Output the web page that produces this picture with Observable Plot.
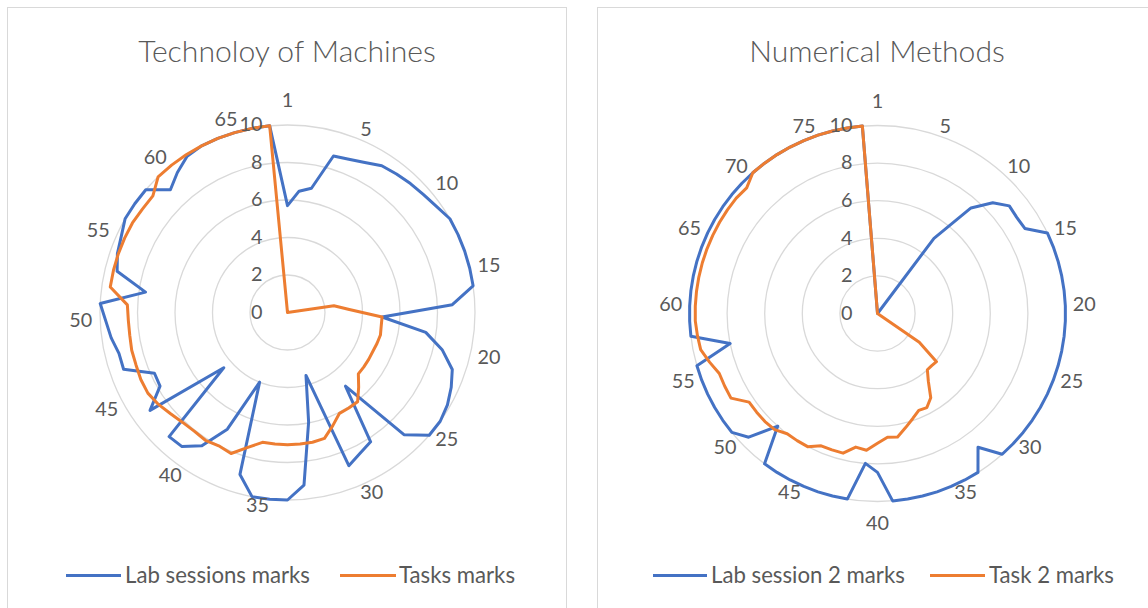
<!DOCTYPE html>
<html><head><meta charset="utf-8">
<script src="https://cdn.jsdelivr.net/npm/d3@7"></script>
<script src="https://cdn.jsdelivr.net/npm/@observablehq/plot@0.6"></script>
<style>
html,body{margin:0;padding:0;background:#fff;overflow:hidden}
#root{position:relative;width:1148px;height:608px;overflow:hidden;font-family:Lato,"Noto Sans",sans-serif;color:#595959}
.panel{position:absolute;border:1px solid #d9d9d9;background:#fff;box-sizing:border-box}
.abs{position:absolute;white-space:nowrap}
.sw{position:absolute;height:3px}
</style></head><body><div id="root"></div>
<script>
// ---------- data ----------
const techTitle = "Technoloy of Machines";
const numTitle = "Numerical Methods";
const ringTicks = [0, 2, 4, 6, 8, 10];

const techCategories = d3.range(1, 67);   // 66 categories
const techLabelCats = [1, 5, 10, 15, 20, 25, 30, 35, 40, 45, 50, 55, 60, 65];
const techLab = [5.7,6.5,6.75,8.7,8.8,9.0,9.3,9.4,9.5,9.6,
  9.75,10,10,10,10,10,8.8,5.05,7.45,8.5,
  9.3,9.6,9.85,10,10,9.0,5.0,8.2,8.45,8.8,
  3.5,5.95,9.25,10,10,10,9.0,4.0,7.0,8.45,
  9.1,9.15,4.5,9.0,7.85,7.8,9.25,9.25,9.5,9.7,
  10,7.65,9.35,9.6,9.75,10,10,10,9.05,9.5,
  9.9,10,10,10,10,10];
const techTask = [0,0,0,0,0,0,0,0,0,0,
  0,0,0,0,0,2.5,3.3,5.05,5.05,5.1,
  5.05,5.0,5.0,5.0,5.0,5.5,6.05,6.05,6.05,6.5,
  7.0,7.05,7.05,7.05,7.05,7.05,7.5,8.1,8.0,8.1,
  8.05,8.1,8.25,8.45,8.6,8.6,8.55,8.55,8.5,8.5,
  8.55,9.55,9.55,9.55,9.55,9.55,9.5,9.5,10,10,
  10,10,10,10,10,10];

const numCategories = d3.range(1, 79);    // 78 categories
const numLabelCats = [1, 5, 10, 15, 20, 25, 30, 35, 40, 45, 50, 55, 60, 65, 70, 75];
const numLab = [0,0,0,0,0,0,0,0,5.0,7.5,
  8.5,9.05,9.0,9.05,10,10,10,10,10,10,
  10,10,10,10,10,10,10,10,10,10,
  10,8.9,10,10,10,10,10,10,10,8.45,
  8.0,10,10,10,10,10,10,10,8.0,9.5,
  10,10,10,10,10,10,8.0,10,10,10,
  10,10,10,10,10,10,10,10,10,10,
  10,10,10,10,10,10,10,10];
const numTask = [0,0,0,0,0,0,0,0,0,0,
  0,0,0,0,0,0,0,0,0,0,
  0,0,0,0,0,0,0,2.7,4.05,4.0,
  4.0,4.5,5.3,5.65,5.6,5.9,6.25,6.65,6.6,6.9,
  7.3,7.2,7.65,7.65,7.65,8.0,8.0,8.0,8.25,8.3,
  8.3,8.3,9.0,9.0,9.0,9.3,9.6,9.65,9.7,9.7,
  9.7,9.7,9.7,9.7,9.7,9.7,9.7,9.7,9.65,10,
  10,10,10,10,10,10,10,10];

const BLUE = "#4472C4", ORANGE = "#ED7D31", GRID = "#D9D9D9", TEXT = "#595959";
const FONT = 'Lato, "Noto Sans", sans-serif';

// ---------- font fitting ----------
const ctx = document.createElement("canvas").getContext("2d");
function textWidth(text, size, weight = 400) {
  ctx.font = `${weight} ${size}px ${FONT}`;
  return ctx.measureText(text).width;
}
function fitSize(text, target, weight = 400) {
  return 100 * target / textWidth(text, 100, weight);
}
const tickSize = fitSize("10", 23);
const titleSize = fitSize(techTitle, 299, 300);
const legendSize = fitSize("Lab sessions marks", 185);

// ---------- radar ----------
function radar({categories, labelCats, series, unit, width, height, cx, cy}) {
  const N = categories.length;
  const ang = i => i * 2 * Math.PI / N;
  const LR = 195.5 / unit;
  const TICK_DX = -25;
  // boxes of the radial tick labels (in px relative to centre) to keep category labels clear of them
  const tickBoxes = ringTicks.map(t => {
    const w = textWidth(String(t), tickSize);
    return {right: TICK_DX, left: TICK_DX - w, y: -t * unit};
  });
  const labels = labelCats.map(c => {
    const i = categories.indexOf(c);
    const deg = i * 360 / N;
    let x = LR * Math.sin(ang(i)), y = LR * Math.cos(ang(i));
    if (deg > 180 + 1e-9) {
      const right = x * unit, py = -y * unit;
      for (const b of tickBoxes) {
        if (Math.abs(py - b.y) < tickSize * 0.8 && right > b.left - 2) {
          x -= (right - (b.left - 2)) / unit;
        }
      }
    }
    return {c, deg, x, y};
  });
  const txt = {x: "x", y: "y", text: d => String(d.c), fill: TEXT, fontSize: tickSize};
  return Plot.plot({
    width, height,
    marginTop: 0, marginRight: 0, marginBottom: 0, marginLeft: 0,
    x: {domain: [-cx / unit, (width - cx) / unit], range: [0, width], axis: null},
    y: {domain: [-(height - cy) / unit, cy / unit], range: [height, 0], axis: null},
    r: {type: "linear", domain: [0, 10], range: [0, 10 * unit]},
    style: {fontFamily: FONT, background: "transparent", overflow: "visible"},
    marks: [
      Plot.dot(ringTicks.filter(t => t > 0), {x: () => 0, y: () => 0, r: t => t, stroke: GRID, strokeWidth: 1.3, fill: "none"}),
      ...series.map(s => Plot.line(s.values, {
        x: (v, i) => v * Math.sin(ang(i)),
        y: (v, i) => v * Math.cos(ang(i)),
        stroke: s.color, strokeWidth: 3, curve: "linear-closed", strokeLinejoin: "round"
      })),
      Plot.text(ringTicks, {x: () => 0, y: t => t, text: t => String(t), dx: TICK_DX, textAnchor: "end", lineAnchor: "middle", fill: TEXT, fontSize: tickSize}),
      Plot.text(labels.filter(d => d.deg === 0), {...txt, textAnchor: "middle", lineAnchor: "bottom", dy: -10}),
      Plot.text(labels.filter(d => Math.abs(d.deg - 180) < 1e-9), {...txt, textAnchor: "middle", lineAnchor: "top", dy: 7}),
      Plot.text(labels.filter(d => d.deg > 0 && d.deg < 180 - 1e-9), {...txt, textAnchor: "start", lineAnchor: "middle", dy: -1}),
      Plot.text(labels.filter(d => d.deg > 180 + 1e-9), {...txt, textAnchor: "end", lineAnchor: "middle", dy: -1})
    ]
  });
}

// ---------- layout ----------
const root = document.getElementById("root");
function el(tag, cls, css, html) {
  const e = document.createElement(tag);
  if (cls) e.className = cls;
  Object.assign(e.style, css || {});
  if (html != null) e.textContent = html;
  root.appendChild(e);
  return e;
}

el("div", "panel", {left: "7px", top: "7px", width: "560px", height: "700px"});
el("div", "panel", {left: "597px", top: "7px", width: "600px", height: "700px"});

function title(text, centerX) {
  el("div", "abs", {left: (centerX - 300) + "px", width: "600px", textAlign: "center",
    top: (62 - 0.887 * titleSize) + "px", fontSize: titleSize + "px", lineHeight: titleSize + "px",
    fontWeight: 300, color: TEXT}, text);
}
title(techTitle, 287);
title(numTitle, 877);

const p1 = radar({categories: techCategories, labelCats: techLabelCats,
  series: [{values: techLab, color: BLUE}, {values: techTask, color: ORANGE}],
  unit: 18.75, width: 560, height: 470, cx: 280, cy: 232});
Object.assign(p1.style, {position: "absolute", left: "7px", top: "80px"});
root.appendChild(p1);

const p2 = radar({categories: numCategories, labelCats: numLabelCats,
  series: [{values: numLab, color: BLUE}, {values: numTask, color: ORANGE}],
  unit: 18.8, width: 551, height: 470, cx: 280, cy: 233});
Object.assign(p2.style, {position: "absolute", left: "597px", top: "80px"});
root.appendChild(p2);

function legendItem(x0, x1, tx, label, color) {
  el("div", "sw", {left: x0 + "px", width: (x1 - x0) + "px", top: "574px", background: color});
  el("div", "abs", {left: tx + "px", top: (575 - legendSize * 0.6) + "px", height: (legendSize * 1.2) + "px",
    lineHeight: (legendSize * 1.2) + "px", fontSize: legendSize + "px", color: TEXT}, label);
}
legendItem(66, 121, 125, "Lab sessions marks", BLUE);
legendItem(340, 396, 399, "Tasks marks", ORANGE);
legendItem(653, 707, 711, "Lab session 2 marks", BLUE);
legendItem(930, 985, 989, "Task 2 marks", ORANGE);
</script></body></html>
